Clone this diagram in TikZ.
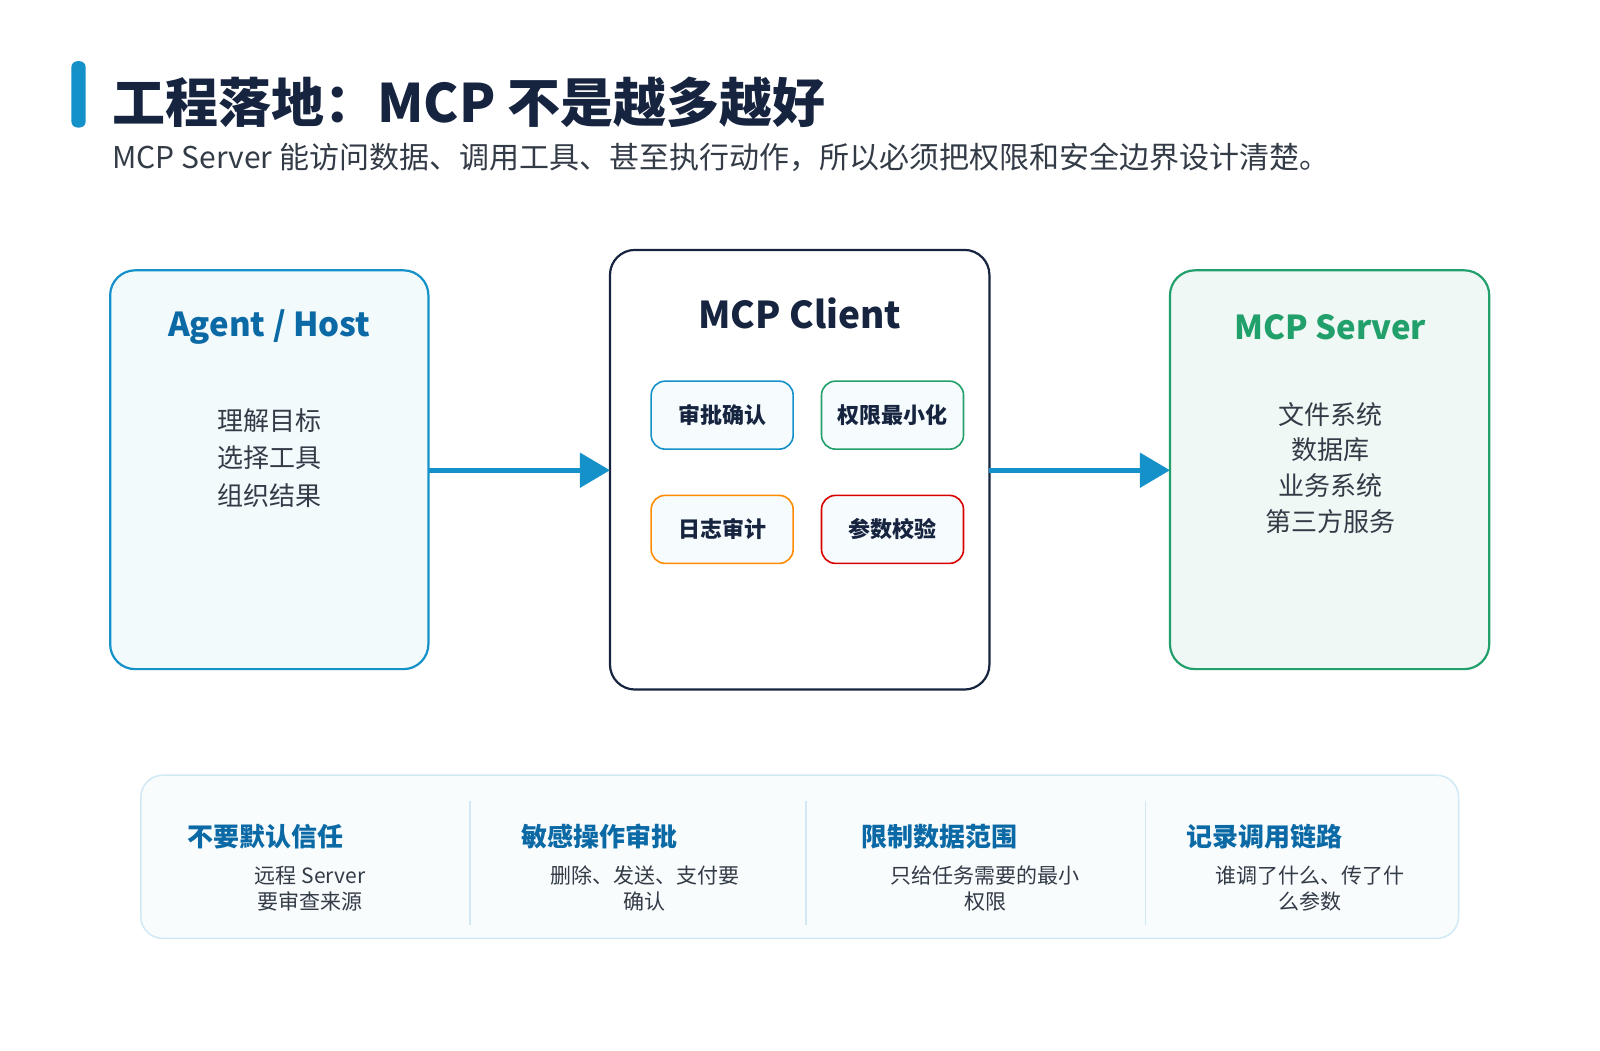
\documentclass[tikz,border=0pt]{standalone}
\usepackage{fontspec}
\setmainfont{Noto Sans CJK SC}
\usetikzlibrary{arrows.meta}
\definecolor{navy}{HTML}{16243F}
\definecolor{blu}{HTML}{1591C9}
\definecolor{dblu}{HTML}{0B6AA6}
\definecolor{grn}{HTML}{22A06B}
\definecolor{txt}{HTML}{333B47}
\tikzset{
 fs/.style 2 args={font=\fontsize{#1}{#2}\selectfont},
 fb/.style 2 args={font=\fontsize{#1}{#2}\selectfont\bfseries},
 big/.style={rounded corners=25pt,line width=2.2pt},
 chip/.style={draw,rounded corners=14pt,line width=1.6pt,fill=blu!4,minimum width=142pt,minimum height=68pt,fb={22}{26},text=navy},
 item/.style={fs={26}{30},text=txt,align=center},
 head/.style={fb={26}{30},text=dblu,anchor=west},
 sub/.style={fs={21}{26},text=txt,align=center},
 arr/.style={blu,line width=5pt,-{Triangle[length=30pt,width=34pt]}}
}
\begin{document}
\begin{tikzpicture}[x=1.02pt,y=-1.02pt]
\useasboundingbox (0,0) rectangle (1568.6,1029.4);
\fill[blu,rounded corners=6pt] (70,60) rectangle (84,125);
\node[anchor=base west,fb={53}{60},text=navy,inner sep=0] (t) at (110,120) {工程落地：MCP 不是越多越好};
\node[anchor=base west,fs={30}{34},text=txt,inner sep=0] (s) at (110,165) {MCP Server 能访问数据、调用工具、甚至执行动作，所以必须把权限和安全边界设计清楚。};
% left
\draw[big,draw=blu,fill=blu!5] (108,265) rectangle (420,656);
\coordinate (L) at (420,461);
\node[fb={33}{40},text=dblu] (lt) at (264,321) {Agent / Host};
\node[item] (l1) at (264,412) {理解目标};
\node[item] (l2) at (264,449) {选择工具};
\node[item] (l3) at (264,486) {组织结果};
% middle
\draw[big,draw=navy,fill=white] (598,245) rectangle (970,676);
\coordinate (ML) at (598,461); \coordinate (MR) at (970,461);
\node[fb={37}{42},text=navy] (mt) at (784,307) {MCP Client};
\node[chip,draw=blu] (c1) at (708,407) {审批确认};
\node[chip,draw=grn] (c2) at (875,407) {权限最小化};
\node[chip,draw=orange!90!yellow] (c3) at (708,519) {日志审计};
\node[chip,draw=red!85!black] (c4) at (875,519) {参数校验};
% right
\draw[big,draw=grn,fill=grn!7] (1147,265) rectangle (1460,656);
\coordinate (R) at (1147,461);
\node[fb={33}{40},text=grn] (rt) at (1304,321) {MCP Server};
\node[item] (r1) at (1304,406) {文件系统};
\node[item] (r2) at (1304,441) {数据库};
\node[item] (r3) at (1304,476) {业务系统};
\node[item] (r4) at (1304,511) {第三方服务};
\draw[arr] (L) -- (ML);
\draw[arr] (MR) -- (R);
% bottom
\draw[rounded corners=22pt,draw=blu!20,line width=1.5pt,fill=blu!3] (138,760) rectangle (1430,920);
\foreach \x in {461,790,1123} \draw[blu!20,line width=1.5pt] (\x,785) -- (\x,907);
\node[head] (h1) at (180,820) {不要默认信任};
\node[head] (h2) at (508,820) {敏感操作审批};
\node[head] (h3) at (841,820) {限制数据范围};
\node[head] (h4) at (1160,820) {记录调用链路};
\node[sub] (b1) at (304,871) {远程 Server\\要审查来源};
\node[sub] (b2) at (632,871) {删除、发送、支付要\\确认};
\node[sub] (b3) at (966,871) {只给任务需要的最小\\权限};
\node[sub] (b4) at (1284,871) {谁调了什么、传了什\\么参数};
\end{tikzpicture}
\end{document}
